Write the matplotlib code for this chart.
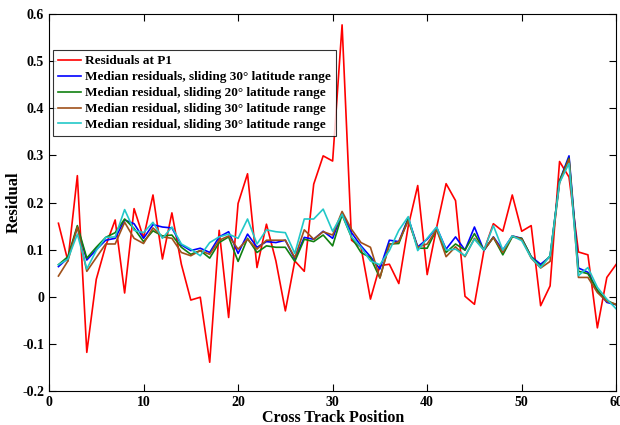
import matplotlib
matplotlib.use('Agg')
import matplotlib.pyplot as plt
import numpy as np

plt.rcParams['font.family'] = ['Liberation Serif', 'DejaVu Serif']
plt.rcParams['font.weight'] = 'bold'

# cross track positions 1..60
position = np.arange(1, 61)

resid_p1 = [0.156, 0.076, 0.257, -0.118, 0.037, 0.108, 0.163, 0.008, 0.187, 0.125,
            0.216, 0.080, 0.178, 0.069, -0.007, -0.001, -0.139, 0.141, -0.044, 0.198,
            0.261, 0.062, 0.154, 0.076, -0.030, 0.076, 0.054, 0.239, 0.299, 0.288,
            0.577, 0.120, 0.105, -0.005, 0.066, 0.069, 0.028, 0.150, 0.236, 0.047,
            0.147, 0.240, 0.204, 0.001, -0.016, 0.098, 0.155, 0.139, 0.216, 0.139,
            0.151, -0.019, 0.023, 0.287, 0.254, 0.095, 0.089, -0.066, 0.041, 0.069]

med_30_a = [0.064, 0.082, 0.148, 0.078, 0.100, 0.120, 0.124, 0.163, 0.155, 0.124,
            0.153, 0.148, 0.146, 0.110, 0.098, 0.103, 0.094, 0.127, 0.138, 0.092,
            0.133, 0.105, 0.117, 0.115, 0.120, 0.080, 0.126, 0.122, 0.139, 0.124,
            0.177, 0.136, 0.108, 0.085, 0.059, 0.120, 0.117, 0.167, 0.106, 0.122,
            0.147, 0.101, 0.127, 0.099, 0.148, 0.098, 0.127, 0.099, 0.129, 0.124,
            0.085, 0.069, 0.085, 0.246, 0.299, 0.061, 0.052, 0.013, -0.012, -0.017]

med_20 = [0.068, 0.085, 0.151, 0.082, 0.105, 0.126, 0.136, 0.165, 0.145, 0.117,
          0.140, 0.129, 0.131, 0.105, 0.090, 0.098, 0.082, 0.115, 0.127, 0.075,
          0.124, 0.094, 0.108, 0.105, 0.105, 0.075, 0.122, 0.117, 0.131, 0.108,
          0.174, 0.126, 0.094, 0.083, 0.040, 0.112, 0.113, 0.165, 0.103, 0.103,
          0.143, 0.094, 0.112, 0.099, 0.134, 0.099, 0.126, 0.089, 0.127, 0.124,
          0.085, 0.064, 0.087, 0.246, 0.294, 0.054, 0.049, 0.014, -0.008, -0.017]

med_30_b = [0.044, 0.076, 0.148, 0.054, 0.083, 0.112, 0.112, 0.158, 0.124, 0.113,
            0.146, 0.127, 0.124, 0.094, 0.087, 0.098, 0.090, 0.120, 0.129, 0.101,
            0.122, 0.101, 0.120, 0.120, 0.120, 0.083, 0.142, 0.122, 0.138, 0.131,
            0.181, 0.143, 0.115, 0.105, 0.040, 0.110, 0.117, 0.161, 0.105, 0.112,
            0.143, 0.085, 0.106, 0.085, 0.124, 0.099, 0.126, 0.094, 0.129, 0.122,
            0.082, 0.061, 0.075, 0.242, 0.292, 0.041, 0.041, 0.009, -0.010, -0.016]

med_30_c = [0.068, 0.080, 0.133, 0.059, 0.098, 0.126, 0.127, 0.185, 0.141, 0.136,
            0.158, 0.124, 0.148, 0.112, 0.101, 0.087, 0.115, 0.127, 0.133, 0.124,
            0.165, 0.112, 0.142, 0.138, 0.136, 0.092, 0.165, 0.165, 0.186, 0.139,
            0.175, 0.127, 0.105, 0.076, 0.068, 0.098, 0.141, 0.170, 0.098, 0.124,
            0.148, 0.099, 0.101, 0.087, 0.122, 0.099, 0.151, 0.099, 0.129, 0.119,
            0.083, 0.062, 0.087, 0.242, 0.283, 0.045, 0.062, 0.020, -0.005, -0.026]

series = [
    (resid_p1, '#ff0000', 'Residuals at P1'),
    (med_30_a, '#0000ff', 'Median residuals, sliding 30\u00b0 latitude range'),
    (med_20, '#108010', 'Median residual, sliding 20\u00b0 latitude range'),
    (med_30_b, '#a0501a', 'Median residual, sliding 30\u00b0 latitude range'),
    (med_30_c, '#22c8c8', 'Median residual, sliding 30\u00b0 latitude range'),
]

fig = plt.figure(figsize=(6.2, 4.25), dpi=100)
ax = fig.add_axes([0.079, 0.08, 0.915, 0.887])

for vals, col, lab in series:
    ax.plot(position, vals, color=col, lw=1.2, label=lab)

ax.set_xlim(0, 60)
ax.set_ylim(-0.2, 0.6)
ax.set_xticks(np.arange(0, 61, 10))
ax.set_yticks(np.arange(-0.2, 0.61, 0.1))
ax.set_yticklabels(['-0.2', '-0.1', '0', '0.1', '0.2', '0.3', '0.4', '0.5', '0.6'])
ax.tick_params(direction='in', top=True, right=True, labelsize=10, length=5)
for lbl in ax.get_xticklabels() + ax.get_yticklabels():
    lbl.set_fontweight('bold')

ax.set_xlabel('Cross Track Position', fontsize=11.5, fontweight='bold', labelpad=1)
ax.set_ylabel('Residual', fontsize=12, fontweight='bold', labelpad=0)

leg = ax.legend(loc='upper left', bbox_to_anchor=(0.007, 0.905), fontsize=9.5,
                handlelength=1.7, handletextpad=0.3, borderpad=0.4,
                labelspacing=0.28, frameon=True, fancybox=False, borderaxespad=0)
leg.get_frame().set_edgecolor('black')
leg.get_frame().set_linewidth(0.8)

fig.savefig('out.png', dpi=100)
